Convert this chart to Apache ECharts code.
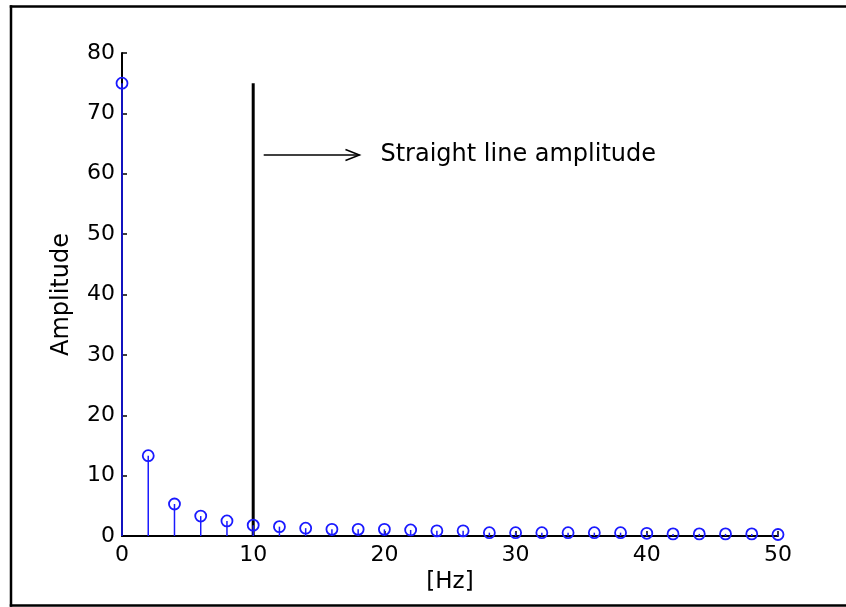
<!DOCTYPE html>
<html>
<head>
<meta charset="utf-8">
<script src="https://cdn.jsdelivr.net/npm/echarts@6/dist/echarts.min.js"></script>
<style>
html,body{margin:0;padding:0;background:#fff;overflow:hidden;}
#chart{width:846px;height:607px;}
</style>
</head>
<body>
<div id="chart"></div>
<script>
// ---- data ----
var freqHz = [0,2,4,6,8,10,12,14,16,18,20,22,24,26,28,30,32,34,36,38,40,42,44,46,48,50];
var amplitude = [75,13.3,5.3,3.3,2.5,1.8,1.55,1.3,1.1,1.1,1.1,1.0,0.85,0.85,0.55,0.55,0.55,0.55,0.55,0.55,0.45,0.35,0.35,0.35,0.35,0.25];
var xTicks = [0,10,20,30,40,50];
var yTicks = [0,10,20,30,40,50,60,70,80];
var straightLineX = [10,10];
var straightLineY = [0,75];
var arrowFrom = [10.8,63.1];
var arrowTo = [18.1,63.1];
var annotationPos = [19.7,63.1];
var annotationText = 'Straight line amplitude';

var FONT = 'DejaVu Sans';
var BLUE = '#1a1aff';

var chart = echarts.init(document.getElementById('chart'), null, {renderer:'canvas'});

var stemData = freqHz.map(function(f,i){return [f, amplitude[i]];});

var option = {
  animation:false,
  backgroundColor:'#fff',
  graphic:[
    {type:'line', shape:{x1:9.75, y1:6.5, x2:846, y2:6.5}, style:{stroke:'#000', lineWidth:2.5}, silent:true},
    {type:'line', shape:{x1:11, y1:5.25, x2:11, y2:606.75}, style:{stroke:'#000', lineWidth:2.5}, silent:true},
    {type:'line', shape:{x1:9.75, y1:605.5, x2:846, y2:605.5}, style:{stroke:'#000', lineWidth:2.5}, silent:true}
  ],
  grid:{left:122, right:68, top:53, bottom:71, containLabel:false},
  xAxis:{
    type:'value', min:xTicks[0], max:xTicks[xTicks.length-1], interval:10,
    name:'[Hz]', nameLocation:'middle', nameGap:31,
    nameTextStyle:{fontFamily:FONT, fontSize:23, color:'#000'},
    axisLine:{show:true, onZero:false, lineStyle:{color:'#000', width:2}},
    axisTick:{show:true, inside:true, length:5, lineStyle:{color:'#000', width:1.5}},
    axisLabel:{fontFamily:FONT, fontSize:22, color:'#000', margin:8},
    splitLine:{show:false}
  },
  yAxis:{
    type:'value', min:yTicks[0], max:yTicks[yTicks.length-1], interval:10,
    name:'Amplitude', nameLocation:'middle', nameGap:48, nameRotate:90,
    nameTextStyle:{fontFamily:FONT, fontSize:24, color:'#000'},
    axisLine:{show:true, onZero:false, lineStyle:{color:'#000', width:2}},
    axisTick:{show:true, inside:true, length:5, lineStyle:{color:'#000', width:1.5}},
    axisLabel:{fontFamily:FONT, fontSize:22, color:'#000', margin:7},
    splitLine:{show:false}
  },
  series:[
    {
      type:'line', data:straightLineX.map(function(x,i){return [x, straightLineY[i]];}),
      symbol:'none', lineStyle:{color:'#000', width:3}, z:3, silent:true
    },
    {
      type:'custom', data:stemData, z:4, silent:true,
      renderItem:function(params, api){
        var p0 = api.coord([api.value(0), 0]);
        var p1 = api.coord([api.value(0), api.value(1)]);
        return {type:'line', shape:{x1:p0[0], y1:p0[1], x2:p1[0], y2:p1[1]},
          style:{stroke:BLUE, lineWidth:1.5}};
      }
    },
    {
      type:'custom', data:stemData, z:5, silent:true,
      renderItem:function(params, api){
        var p = api.coord([api.value(0), api.value(1)]);
        return {type:'circle', shape:{cx:p[0], cy:p[1], r:5.5},
          style:{fill:'none', stroke:BLUE, lineWidth:1.8}};
      }
    },
    {
      type:'custom', data:[[arrowFrom[0], arrowFrom[1], arrowTo[0], arrowTo[1]]], z:6, silent:true,
      renderItem:function(params, api){
        var a = api.coord([api.value(0), api.value(1)]);
        var b = api.coord([api.value(2), api.value(3)]);
        return {type:'group', children:[
          {type:'line', shape:{x1:a[0], y1:a[1], x2:b[0], y2:b[1]}, style:{stroke:'#000', lineWidth:1.5}},
          {type:'polyline', shape:{points:[[b[0]-14, b[1]-5.5],[b[0], b[1]],[b[0]-14, b[1]+5.5]]},
            style:{stroke:'#000', lineWidth:1.5, fill:'none'}}
        ]};
      }
    },
    {
      type:'custom', data:[annotationPos], z:6, silent:true,
      renderItem:function(params, api){
        var p = api.coord([api.value(0), api.value(1)]);
        return {type:'text', x:p[0], y:p[1], style:{text:annotationText, fill:'#000',
          font:'24px "'+FONT+'"', textAlign:'left', textVerticalAlign:'middle'}};
      }
    }
  ]
};
chart.setOption(option);
</script>
</body>
</html>
